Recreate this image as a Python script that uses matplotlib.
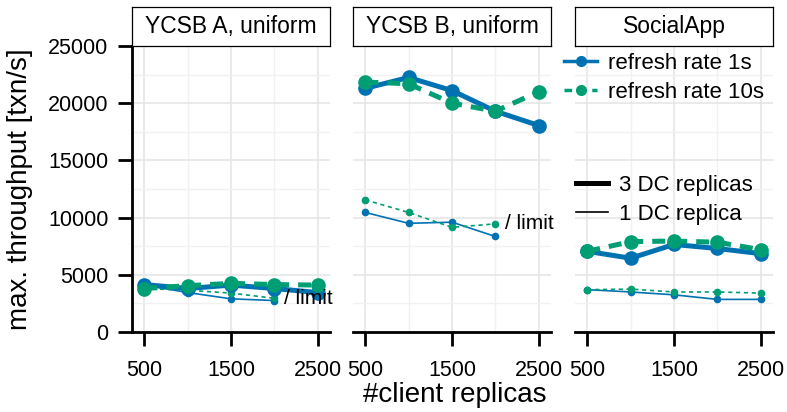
import matplotlib
matplotlib.use("Agg")
import matplotlib.pyplot as plt
from matplotlib.lines import Line2D

plt.rcParams['font.family'] = ['Liberation Sans', 'DejaVu Sans']

# data
replicas = [500, 1000, 1500, 2000, 2500]
panels = ["YCSB A, uniform", "YCSB B, uniform", "SocialApp"]

a_3dc_1s = [4150, 3800, 4100, 3800, 3450]
a_3dc_10s = [3800, 4050, 4250, 4150, 4100]
a_1dc_1s = [4100, 3450, 2900, 2750]
a_1dc_10s = [3800, 3650, 3400, 2950]

b_3dc_1s = [21300, 22250, 21100, 19300, 18050]
b_3dc_10s = [21850, 21700, 20000, 19300, 21000]
b_1dc_1s = [10450, 9500, 9600, 8350]
b_1dc_10s = [11550, 10450, 9150, 9450]

s_3dc_1s = [7050, 6450, 7650, 7300, 6850]
s_3dc_10s = [7050, 7900, 7950, 7850, 7200]
s_1dc_1s = [3700, 3500, 3250, 2850, 2850]
s_1dc_10s = [3700, 3750, 3500, 3500, 3400]

series = [
    (a_3dc_1s, a_3dc_10s, a_1dc_1s, a_1dc_10s, True),
    (b_3dc_1s, b_3dc_10s, b_1dc_1s, b_1dc_10s, True),
    (s_3dc_1s, s_3dc_10s, s_1dc_1s, s_1dc_10s, False),
]

BLUE = "#0072B2"
GREEN = "#009E73"
W, H = 787, 412

fig = plt.figure(figsize=(W / 100, H / 100), dpi=100)


def px_axes(x0, y0, x1, y1):
    return fig.add_axes([x0 / W, 1 - y1 / H, (x1 - x0) / W, (y1 - y0) / H])


lefts = [132, 353, 575]
for i, (name, (t1, t10, o1, o10, limit)) in enumerate(zip(panels, series)):
    x0 = lefts[i]
    ax = px_axes(x0, 46, x0 + 198, 332)
    ax.set_xlim(358, 2642)
    ax.set_ylim(0, 25000)
    ax.set_xticks([500, 1500, 2500])
    ax.set_xticks([1000, 2000], minor=True)
    ax.set_yticks(range(0, 25001, 5000))
    ax.set_yticks(range(2500, 25000, 5000), minor=True)
    ax.grid(True, which='major', color='#E6E6E6', lw=1.2)
    ax.grid(True, which='minor', color='#F1F1F1', lw=1.0)
    ax.set_axisbelow(True)
    for s in ['top', 'right']:
        ax.spines[s].set_visible(False)
    ax.spines['bottom'].set_linewidth(2.0)
    ax.tick_params(axis='x', which='major', length=10, width=2.0, pad=10,
                   labelsize=15.5)
    ax.tick_params(which='minor', length=0)
    if i == 0:
        ax.spines['left'].set_linewidth(2.0)
        ax.tick_params(axis='y', which='major', length=10, width=2.0, pad=7,
                       labelsize=15.5)
    else:
        ax.spines['left'].set_visible(False)
        ax.tick_params(axis='y', which='major', length=0, labelleft=False)

    n1 = len(o1)
    ax.plot(replicas[:n1], o1, color=BLUE, lw=1.2, marker='o', ms=4.5)
    ax.plot(replicas[:len(o10)], o10, color=GREEN, lw=1.2, marker='o', ms=4.5,
            dashes=(2.5, 2.2))
    ax.plot(replicas, t1, color=BLUE, lw=3.6, marker='o', ms=9.5)
    ax.plot(replicas, t10, color=GREEN, lw=3.6, marker='o', ms=9.5,
            dashes=(2.6, 1.8))
    if limit:
        ax.annotate("/ limit", (replicas[len(o10) - 1], o10[-1]),
                    xytext=(7, 0), textcoords='offset points', va='center',
                    ha='left', fontsize=15, annotation_clip=False)

    # facet strip
    st = px_axes(x0, 7, x0 + 198, 46)
    st.set_xticks([])
    st.set_yticks([])
    for s in st.spines.values():
        s.set_linewidth(0.9)
    st.text(0.5, 0.5, name, ha='center', va='center', fontsize=16.5,
            transform=st.transAxes)

fig.text(20 / W, 1 - 189 / H, "max. throughput [txn/s]", rotation=90,
         ha='center', va='center', fontsize=20)
fig.text(455 / W, 1 - 395 / H, "#client replicas", ha='center', va='center',
         fontsize=20)

h_rate = [
    Line2D([], [], color=BLUE, lw=2.5, marker='o', ms=7),
    Line2D([], [], color=GREEN, lw=2.5, marker='o', ms=7, dashes=(2.2, 1.8)),
]
leg1 = fig.legend(h_rate, ["refresh rate 1s", "refresh rate 10s"],
                  loc='upper left', bbox_to_anchor=(564 / W, 1 - 53 / H),
                  frameon=False, fontsize=16, borderpad=0, borderaxespad=0,
                  handlelength=1.5, handletextpad=0.5, labelspacing=0.36)
h_dc = [Line2D([], [], color='black', lw=3.6),
        Line2D([], [], color='black', lw=1.2)]
leg2 = fig.legend(h_dc, ["3 DC replicas", "1 DC replica"],
                  loc='upper left', bbox_to_anchor=(576 / W, 1 - 175 / H),
                  frameon=False, fontsize=16, borderpad=0, borderaxespad=0,
                  handlelength=1.45, handletextpad=0.5, labelspacing=0.36)

fig.savefig("out.png", dpi=100)
